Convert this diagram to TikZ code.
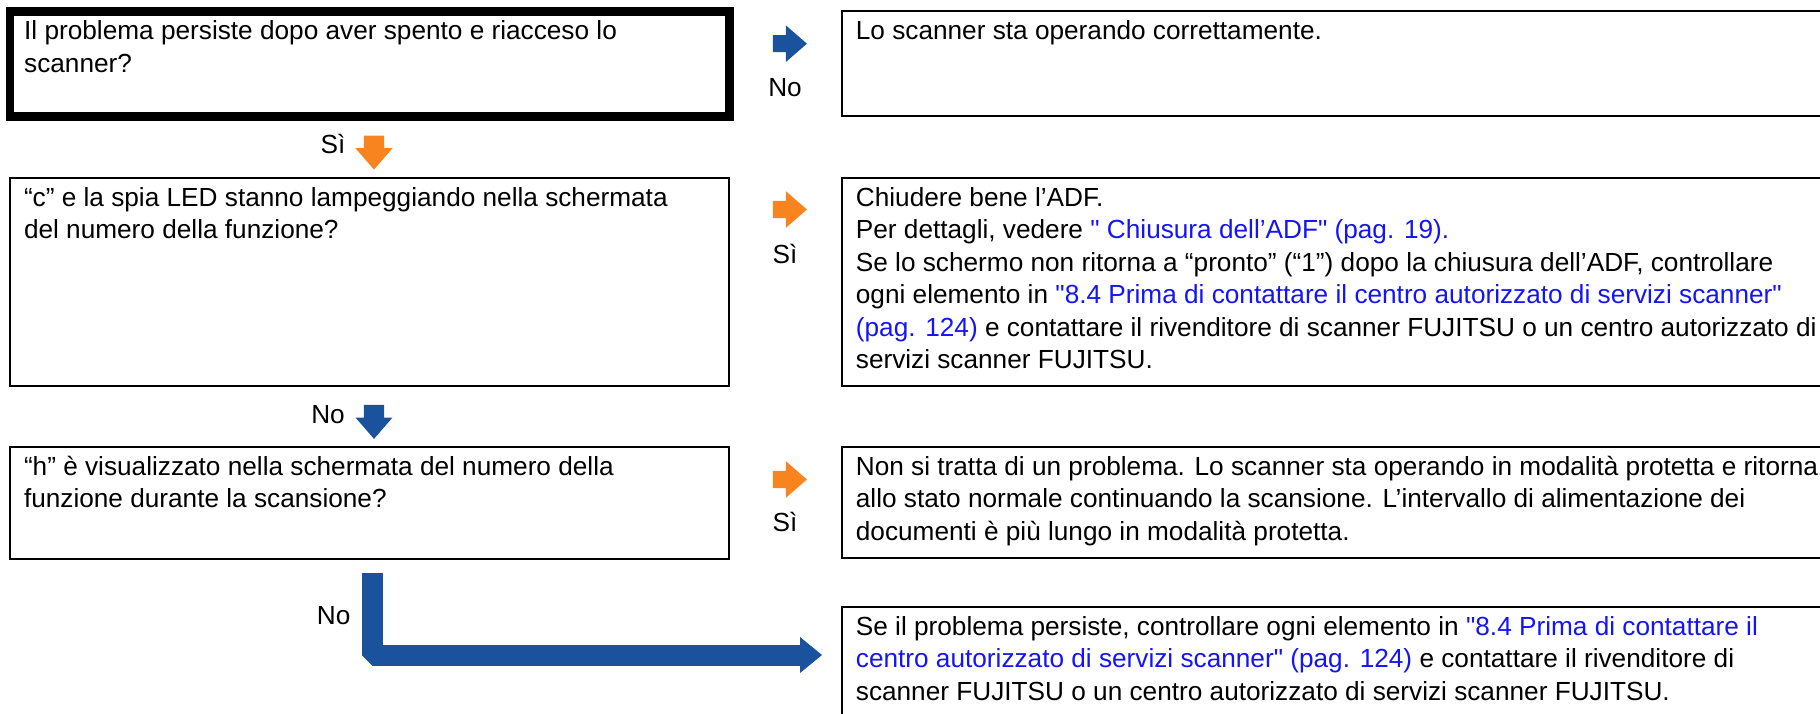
\documentclass[tikz,border=0pt]{standalone}
\usepackage{fontspec}
\setmainfont{Liberation Sans}
\usetikzlibrary{arrows.meta,shapes.arrows,calc}

\definecolor{flowblue}{RGB}{27,82,158}
\definecolor{floworange}{RGB}{247,132,30}
\definecolor{linkblue}{RGB}{20,20,245}
\newcommand{\lnk}[1]{\textcolor{linkblue}{#1}}
\newcommand{\topstrut}{\rule{0pt}{22.7pt}}
\newcommand{\dq}{\textquotedbl}

\tikzset{
  qbox/.style={draw, line width=2.2pt, outer sep=0pt, inner sep=0pt, anchor=north west, minimum width=719.2pt},
  abox/.style={draw, line width=2.2pt, outer sep=0pt, inner sep=0pt, anchor=north west, minimum width=1100pt},
  txt/.style={anchor=north west, inner sep=0pt, align=left, font=\fontsize{26.2}{32.4}\selectfont},
  lbl/.style={anchor=base, inner sep=0pt, font=\fontsize{26.2}{32.4}\selectfont},
  blockarrow/.style={single arrow, draw=none, inner xsep=0pt, outer sep=0pt, single arrow tip angle=82, minimum height=34pt},
  rightarrow/.style={blockarrow, inner ysep=8.35pt, single arrow head extend=9.65pt, minimum width=36pt},
  downarrow/.style={blockarrow, rotate=-90, inner ysep=10pt, single arrow head extend=8.35pt, minimum width=36.7pt},
}

\begin{document}
\begin{tikzpicture}[x=1pt,y=-1pt]
\useasboundingbox (0,0) rectangle (1820,714);
\clip (0,0) rectangle (1820,714);
% question boxes
\node[qbox, line width=8.5pt, minimum width=719.4pt, minimum height=105pt] (q1) at (10,11.5) {};
\node[qbox, minimum height=208pt] (q2) at (9.8,178) {};
\node[qbox, minimum height=112.3pt] (q3) at (9.8,446.7) {};
% answer boxes, cut by the right edge
\node[abox, minimum height=105pt] (a1) at (841.7,11) {};
\node[abox, minimum height=208pt] (a2) at (841.7,178) {};
\node[abox, minimum height=111.3pt] (a3) at (841.7,446.7) {};
\node[abox, minimum height=160pt] (a4) at (841.7,606.7) {};
% texts
\node[txt] (q1t) at ($(q1.north west)+(14,5.6)$) {\topstrut Il problema persiste dopo aver spento e riacceso lo\\scanner?};
\node[txt] (q2t) at ($(q2.north west)+(14,5.6)$) {\topstrut “c” e la spia LED stanno lampeggiando nella schermata\\del numero della funzione?};
\node[txt] (q3t) at ($(q3.north west)+(14,5.6)$) {\topstrut “h” è visualizzato nella schermata del numero della\\funzione durante la scansione?};
\node[txt] (a1t) at ($(a1.north west)+(14,5.6)$) {\topstrut Lo scanner sta operando correttamente.};
\node[txt] (a2t) at ($(a2.north west)+(14,5.6)$) {\topstrut Chiudere bene l’ADF.\\
  Per dettagli, vedere \lnk{\dq{} Chiusura dell’ADF\dq{} (pag. 19).}\\
  Se lo schermo non ritorna a “pronto” (“1”) dopo la chiusura dell’ADF, controllare\\
  ogni elemento in \lnk{\dq{}8.4 Prima di contattare il centro autorizzato di servizi scanner\dq{}}\\
  \lnk{(pag. 124)} e contattare il rivenditore di scanner FUJITSU o un centro autorizzato di\\
  servizi scanner FUJITSU.};
\node[txt] (a3t) at ($(a3.north west)+(14,5.6)$) {\topstrut Non si tratta di un problema. Lo scanner sta operando in modalità protetta e ritorna\\
  allo stato normale continuando la scansione. L’intervallo di alimentazione dei\\
  documenti è più lungo in modalità protetta.};
\node[txt] (a4t) at ($(a4.north west)+(14,5.6)$) {\topstrut Se il problema persiste, controllare ogni elemento in \lnk{\dq{}8.4 Prima di contattare il}\\
  \lnk{centro autorizzato di servizi scanner\dq{} (pag. 124)} e contattare il rivenditore di\\
  scanner FUJITSU o un centro autorizzato di servizi scanner FUJITSU.};
% answer labels
\node[lbl] (no1) at (785,96.7) {No};
\node[lbl] (si2) at (785,263.3) {Sì};
\node[lbl] (si3) at (785,531.7) {Sì};
\node[lbl] (si1) at (333,153.3) {Sì};
\node[lbl] (no2) at (328,423.3) {No};
\node[lbl] (no3) at (333.7,624) {No};
% block arrows
\node[rightarrow, fill=flowblue] (r1) at (785,43.7) {};
\node[rightarrow, fill=floworange] (r2) at (785,209.5) {};
\node[rightarrow, fill=floworange] (r3) at (785,479.5) {};
\node[downarrow, fill=floworange] (d1) at (374,146.7) {};
\node[downarrow, fill=flowblue] (d2) at (374,416) {};
% last no: bent arrow to the last answer
\coordinate (lstart) at (372.2,573.3);
\coordinate (ltip) at (822,655);
\draw[flowblue, line width=21pt, line join=bevel, -{Triangle[length=22pt,width=36pt,line width=0pt]}] (lstart) |- (ltip);
\end{tikzpicture}
\end{document}
